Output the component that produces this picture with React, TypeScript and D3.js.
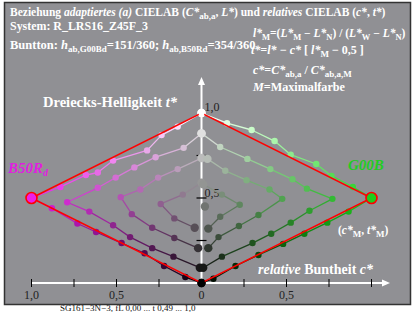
import React, { useEffect, useRef } from 'react'
import * as d3 from 'd3'

const W = 413
const H = 312

// [c*, t*], hue B50Rd (left side)
const leftV0 = [[0, 1], [0.14, 0.92], [0.235, 0.87], [0.32, 0.78], [0.52, 0.72], [0.61, 0.65], [0.68, 0.635], [0.83, 0.565], [1, 0.5], [0.88, 0.44], [0.73, 0.35], [0.62, 0.3], [0.47, 0.235], [0.335, 0.175], [0.22, 0.1], [0.095, 0.035], [0, 0]]
const leftV1 = [[0, 0.88], [0.105, 0.795], [0.27, 0.74], [0.395, 0.68], [0.505, 0.62], [0.61, 0.56], [0.79, 0.475], [0.66, 0.42], [0.52, 0.34], [0.42, 0.27], [0.29, 0.205], [0.165, 0.155], [0.01, 0.09]]
const leftV2 = [[0, 0.735], [0.14, 0.67], [0.255, 0.62], [0.36, 0.55], [0.475, 0.505], [0.41, 0.405], [0.29, 0.325], [0.16, 0.265], [0.02, 0.205]]
const leftV3 = [[0, 0.59], [0.11, 0.52], [0.24, 0.465], [0.16, 0.38], [0.04, 0.325]]

// hue G00B (right side)
const rightV0 = [[0, 1], [0.15, 0.94], [0.295, 0.9], [0.43, 0.835], [0.525, 0.755], [0.675, 0.7], [0.765, 0.63], [0.89, 0.565], [1, 0.5], [0.865, 0.42], [0.74, 0.355], [0.605, 0.29], [0.48, 0.23], [0.335, 0.165], [0.2, 0.1], [0.07, 0.025], [0, 0]]
const rightV1 = [[0, 0.88], [0.11, 0.8], [0.27, 0.73], [0.405, 0.67], [0.535, 0.61], [0.62, 0.555], [0.77, 0.495], [0.635, 0.425], [0.525, 0.355], [0.41, 0.29], [0.3, 0.235], [0.12, 0.155], [0.01, 0.09]]
const rightV2 = [[0.035, 0.73], [0.14, 0.66], [0.265, 0.605], [0.4, 0.55], [0.475, 0.495], [0.335, 0.4], [0.22, 0.335], [0.1, 0.27], [0.04, 0.205]]
const rightV3 = [[0.01, 0.58], [0.12, 0.52], [0.225, 0.46], [0.11, 0.39], [0.04, 0.32]]

const midGray = [[0.02, 0.45]]

const leftMax = [235, 30, 235]
const rightMax = [30, 205, 30]

const cTicks = [-1, -0.75, -0.5, -0.25, 0, 0.25, 0.5, 0.75, 1]
const cLabels = ['1,0', '', '0,5', '', '0', '', '0,5', '', '']
const tTicks = [0.25, 0.5, 0.75]

export default function App() {
  const ref = useRef(null)

  useEffect(() => {
    const g = d3.select(ref.current)
    g.selectAll('*').remove()

    const x = d3.scaleLinear().domain([-1, 1]).range([31.5, 371.5])
    const y = d3.scaleLinear().domain([0, 1]).range([283, 113])

    const colorOf = (c, t, M) => {
      const w = Math.max(0, Math.min(1, t - 0.5 * c))
      const ch = M.map(v => Math.round(Math.min(255, c * v + w * 255)))
      return d3.rgb(ch[0], ch[1], ch[2])
    }

    // axes
    g.append('line').attr('x1', x(-1)).attr('x2', 384).attr('y1', y(0)).attr('y2', y(0))
      .attr('stroke', '#fff').attr('stroke-width', 2)
    g.append('path').attr('d', `M390,${y(0)} L382,${y(0) - 3.5} L382,${y(0) + 3.5}Z`).attr('fill', '#fff')
    g.append('line').attr('x1', x(0)).attr('x2', x(0)).attr('y1', y(0)).attr('y2', 84)
      .attr('stroke', '#fff').attr('stroke-width', 2)
    g.append('path').attr('d', `M${x(0)},77 L${x(0) - 3.5},85 L${x(0) + 3.5},85Z`).attr('fill', '#fff')

    g.selectAll('.ct').data(cTicks.filter(d => d !== 0)).enter().append('line')
      .attr('x1', d => x(d)).attr('x2', d => x(d)).attr('y1', y(0) - 4).attr('y2', y(0) + 4)
      .attr('stroke', '#000').attr('stroke-width', 1)
    g.selectAll('.cl').data(cTicks).enter().append('text')
      .attr('x', d => x(d)).attr('y', y(0) + 16).attr('text-anchor', 'middle')
      .attr('font-size', 12).attr('fill', '#222')
      .text((d, i) => cLabels[i])
    g.selectAll('.tt').data(tTicks).enter().append('line')
      .attr('x1', x(0) - 5).attr('x2', x(0) + 5).attr('y1', d => y(d)).attr('y2', d => y(d))
      .attr('stroke', '#000').attr('stroke-width', 1.2)
    g.append('text').attr('x', x(0) + 3).attr('y', y(1) - 2).attr('font-size', 12).attr('fill', '#222').text('1,0')
    g.append('text').attr('x', x(0) + 3).attr('y', y(0.5) - 1).attr('font-size', 12).attr('fill', '#222').text('0,5')

    const drawSeries = (pts, side, M) => {
      const P = pts.map(([c, t]) => ({ c, t, px: x(side * c), py: y(t), col: colorOf(c, t, M) }))
      for (let i = 0; i < P.length - 1; i++) {
        const a = P[i], b = P[i + 1]
        g.append('line').attr('x1', a.px).attr('y1', a.py).attr('x2', b.px).attr('y2', b.py)
          .attr('stroke', colorOf((a.c + b.c) / 2, (a.t + b.t) / 2, M)).attr('stroke-width', 1.3)
      }
      g.selectAll(null).data(P).enter().append('circle')
        .attr('cx', d => d.px).attr('cy', d => d.py)
        .attr('r', d => (d.c < 0.05 ? 4.2 : 3.2))
        .attr('fill', d => d.col)
    }

    ;[leftV3, leftV2, leftV1, leftV0].forEach(s => drawSeries(s, -1, leftMax))
    ;[rightV3, rightV2, rightV1, rightV0].forEach(s => drawSeries(s, 1, rightMax))
    drawSeries(midGray, 1, rightMax)

    // theoretical triangle
    const tri = d3.line().x(d => x(d[0])).y(d => y(d[1]))
    g.append('path').datum([[-1, 0.5], [0, 1], [1, 0.5], [0, 0], [-1, 0.5]]).attr('d', tri)
      .attr('fill', 'none').attr('stroke', '#f00').attr('stroke-width', 1.5)

    // max colours
    ;[[-1, leftMax], [1, rightMax]].forEach(([c, M]) => {
      g.append('circle').attr('cx', x(c)).attr('cy', y(0.5)).attr('r', 5.5)
        .attr('fill', d3.rgb(M[0], M[1], M[2])).attr('stroke', '#f00').attr('stroke-width', 1.6)
    })
    g.append('circle').attr('cx', x(0)).attr('cy', y(1)).attr('r', 3).attr('fill', '#fff')
    g.append('circle').attr('cx', x(0)).attr('cy', y(0)).attr('r', 3.5).attr('fill', '#000')
  }, [])

  const sub = { fontSize: 9 }
  const subS = { fontSize: 8.5 }
  return (
    <svg width={W} height={H} style={{ position: 'absolute', left: 0, top: 0, fontFamily: 'Liberation Serif, serif' }}>
      <style>{`body{margin:0}`}</style>
      <rect x={0} y={0} width={W} height={H} fill="#fff" />
      <rect x={4.5} y={2.5} width={406} height={302} fill="#909094" stroke="#333" strokeWidth={1.5} />
      <g fill="#fff" fontWeight="bold" fontSize={12.5}>
        <text x={10} y={16} fontSize={11.5}>
          Beziehung <tspan fontStyle="italic">adaptiertes (a)</tspan> CIELAB (<tspan fontStyle="italic">C*</tspan>
          <tspan dy={3} style={sub}>ab,a</tspan><tspan dy={-3}>, </tspan><tspan fontStyle="italic">L*</tspan>) und{' '}
          <tspan fontStyle="italic">relatives</tspan> CIELAB (<tspan fontStyle="italic">c*</tspan>, <tspan fontStyle="italic">t*</tspan>)
        </text>
        <text x={10} y={30} textLength={138} lengthAdjust="spacingAndGlyphs">System: R_LRS16_Z45F_3</text>
        <text x={10} y={49}>
          Buntton: <tspan fontStyle="italic">h</tspan><tspan dy={3} style={sub}>ab,G00Bd</tspan><tspan dy={-3}>=151/360; </tspan>
          <tspan fontStyle="italic">h</tspan><tspan dy={3} style={sub}>ab,B50Rd</tspan><tspan dy={-3}>=354/360</tspan>
        </text>
        <text x={253} y={37} fontStyle="italic" fontSize={11.5}>
          l*<tspan dy={3} style={subS} fontStyle="normal">M</tspan><tspan dy={-3} fontStyle="normal">=(</tspan>L*
          <tspan dy={3} style={subS} fontStyle="normal">M</tspan><tspan dy={-3} fontStyle="normal"> − </tspan>L*
          <tspan dy={3} style={subS} fontStyle="normal">N</tspan><tspan dy={-3} fontStyle="normal">) / (</tspan>L*
          <tspan dy={3} style={subS} fontStyle="normal">W</tspan><tspan dy={-3} fontStyle="normal"> − </tspan>L*
          <tspan dy={3} style={subS} fontStyle="normal">N</tspan><tspan dy={-3} fontStyle="normal">)</tspan>
        </text>
        <text x={251} y={54} fontStyle="italic" fontSize={12}>
          t*=l* − c*<tspan fontStyle="normal"> [ </tspan>l*<tspan dy={3} style={sub} fontStyle="normal">M</tspan>
          <tspan dy={-3} fontStyle="normal"> − 0,5 ]</tspan>
        </text>
        <text x={253} y={74} fontStyle="italic" fontSize={12}>
          c*<tspan fontStyle="normal">=</tspan>C*<tspan dy={3} style={sub} fontStyle="normal">ab,a</tspan>
          <tspan dy={-3} fontStyle="normal"> / </tspan>C*<tspan dy={3} style={sub} fontStyle="normal">ab,a,M</tspan>
        </text>
        <text x={253} y={91} textLength={92} lengthAdjust="spacingAndGlyphs">
          <tspan fontStyle="italic">M</tspan>=Maximalfarbe
        </text>
        <text x={43} y={107} fontSize={14} textLength={134} lengthAdjust="spacingAndGlyphs">
          Dreiecks-Helligkeit <tspan fontStyle="italic">t*</tspan>
        </text>
        <text x={258} y={274} fontSize={14} textLength={115} lengthAdjust="spacingAndGlyphs">
          <tspan fontStyle="italic">relative</tspan> Buntheit <tspan fontStyle="italic">c*</tspan>
        </text>
        <text x={338} y={234} fontSize={11.5}>
          (<tspan fontStyle="italic">c*</tspan><tspan dy={3} style={sub}>M</tspan><tspan dy={-3}>, </tspan>
          <tspan fontStyle="italic">t*</tspan><tspan dy={3} style={sub}>M</tspan><tspan dy={-3}>)</tspan>
        </text>
      </g>
      <text x={8} y={173} fill="#e020e0" fontWeight="bold" fontStyle="italic" fontSize={15}>
        B50R<tspan dy={3} fontSize={10}>d</tspan>
      </text>
      <text x={348} y={170} fill="#22cc22" fontWeight="bold" fontStyle="italic" fontSize={15}>G00B</text>
      <g ref={ref} />
      <text x={60} y={311} fontSize={9} fill="#111">SG161−3N−3, fL 0,00 ... t 0,49 ... 1,0</text>
    </svg>
  )
}
